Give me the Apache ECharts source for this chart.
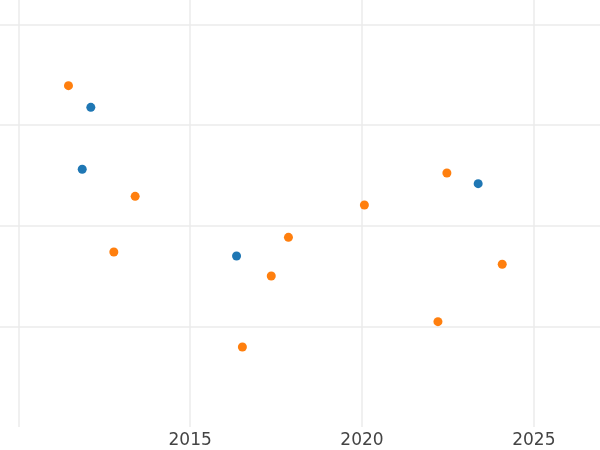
<!DOCTYPE html>
<html>
<head>
<meta charset="utf-8">
<script src="https://cdn.jsdelivr.net/npm/echarts@6/dist/echarts.min.js"></script>
<style>html,body{margin:0;padding:0;background:#fff}#c{width:600px;height:450px}</style>
</head>
<body>
<div id="c"></div>
<script>
var xTickLabels = ['2015', '2020', '2025'];
var blueX = [2012.11, 2011.86, 2016.35, 2023.38];
var blueY = [31.75, 25.60, 16.98, 24.17];
var orangeX = [2011.46, 2013.40, 2012.78, 2016.52, 2017.36, 2017.86, 2020.07, 2022.21, 2022.47, 2024.08];
var orangeY = [33.90, 22.91, 17.38, 7.95, 15.00, 18.84, 22.05, 10.46, 25.23, 16.16];

function pairs(xs, ys) { return xs.map(function (x, i) { return [x, ys[i]]; }); }

var chart = echarts.init(document.getElementById('c'), null, {renderer: 'canvas'});
chart.setOption({
  animation: false,
  backgroundColor: '#ffffff',
  grid: {left: 0, right: 0, top: 0, bottom: 23, containLabel: false},
  xAxis: {
    type: 'value', min: 2009.4676, max: 2026.925, splitNumber: 3, minInterval: 5, maxInterval: 5,
    axisLine: {show: false}, axisTick: {show: false},
    axisLabel: {
      margin: 5, fontSize: 17, color: '#444444', fontFamily: 'DejaVu Sans',
      showMinLabel: false, showMaxLabel: false,
      formatter: function (v) { var s = String(Math.round(v)); return xTickLabels.indexOf(s) >= 0 ? s : ''; }
    },
    splitLine: {show: true, showMinLine: false, showMaxLine: false, lineStyle: {color: '#ebebeb', width: 1.5}}
  },
  yAxis: {
    type: 'value', min: 0, max: 42.41, splitNumber: 5, minInterval: 10, maxInterval: 10,
    axisLine: {show: false}, axisTick: {show: false}, axisLabel: {show: false},
    splitLine: {show: true, showMinLine: false, showMaxLine: false, lineStyle: {color: '#ebebeb', width: 1.5}}
  },
  series: [
    {type: 'scatter', data: pairs(blueX, blueY), symbolSize: 9, itemStyle: {color: '#1f77b4', opacity: 1}},
    {type: 'scatter', data: pairs(orangeX, orangeY), symbolSize: 9, itemStyle: {color: '#ff7f0e', opacity: 1}}
  ]
});
</script>
</body>
</html>
